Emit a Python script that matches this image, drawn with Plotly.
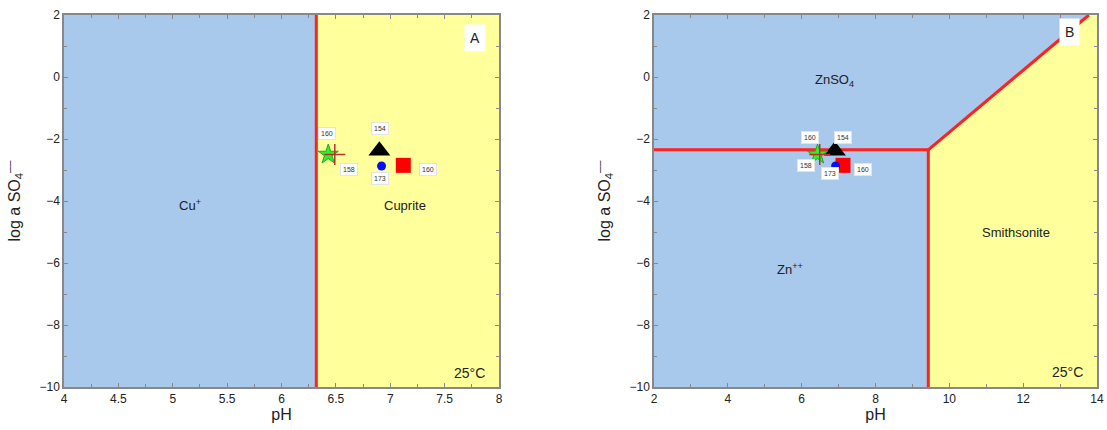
import plotly.graph_objects as go

# ---- data ----
# Panel A (Cu system)
a_boundary_ph = 6.32
a_xrange = [4, 8]
yrange = [-10, 2]
# Panel B (Zn system)
b_vert_ph = 9.43
b_horiz_logso4 = -2.35
b_diag_top_ph = 13.78
b_xrange = [2, 14]

# sample points (same samples shown in both panels)
star_ph, star_so4 = [6.43], [-2.5]
cross_ph, cross_so4 = [6.49], [-2.5]
tri_ph, tri_so4 = [6.9], [-2.38]
circ_ph, circ_so4 = [6.92], [-2.87]
sq_ph, sq_so4 = [7.12], [-2.85]

# sample labels: text, panel-A position, panel-B position
label_text = ["160", "154", "158", "173", "160"]
label_a_ph = [6.42, 6.91, 6.62, 6.91, 7.35]
label_a_so4 = [-1.81, -1.65, -2.97, -3.26, -2.97]
label_b_ph = [6.23, 7.12, 6.12, 6.77, 7.66]
label_b_so4 = [-1.94, -1.94, -2.84, -3.1, -2.97]

BLUE = "#a8c8ec"
YELLOW = "#ffff9c"
RED = "#ff2020"
FONT = "Liberation Sans, Arial, sans-serif"

fig = go.Figure()

def poly(xs, ys, color, xa, ya):
    fig.add_trace(go.Scatter(x=xs, y=ys, fill="toself", fillcolor=color, mode="none",
                             xaxis=xa, yaxis=ya, showlegend=False, hoverinfo="skip"))

def line(xs, ys, xa, ya):
    fig.add_trace(go.Scatter(x=xs, y=ys, mode="lines", line=dict(color=RED, width=3),
                             xaxis=xa, yaxis=ya, showlegend=False, hoverinfo="skip"))

def markers(xa, ya):
    fig.add_trace(go.Scatter(x=tri_ph, y=tri_so4, mode="markers", xaxis=xa, yaxis=ya,
                             marker=dict(symbol="triangle-up", size=19, color="black"), showlegend=False))
    fig.add_trace(go.Scatter(x=sq_ph, y=sq_so4, mode="markers", xaxis=xa, yaxis=ya,
                             marker=dict(symbol="square", size=15, color="red"), showlegend=False))
    fig.add_trace(go.Scatter(x=circ_ph, y=circ_so4, mode="markers", xaxis=xa, yaxis=ya,
                             marker=dict(symbol="circle", size=9, color="#0010ff"), showlegend=False))
    fig.add_trace(go.Scatter(x=star_ph, y=star_so4, mode="markers", xaxis=xa, yaxis=ya,
                             marker=dict(symbol="star", size=15, color="#33ee22",
                                         line=dict(color="#22aa22", width=1)), showlegend=False))
    fig.add_trace(go.Scatter(x=cross_ph, y=cross_so4, mode="markers", xaxis=xa, yaxis=ya,
                             marker=dict(symbol="cross-thin", size=15,
                                         line=dict(color="#b83030", width=1.5)), showlegend=False))

# Panel A regions
poly([a_xrange[0], a_boundary_ph, a_boundary_ph, a_xrange[0]],
     [yrange[0], yrange[0], yrange[1], yrange[1]], BLUE, "x", "y")
poly([a_boundary_ph, a_xrange[1], a_xrange[1], a_boundary_ph],
     [yrange[0], yrange[0], yrange[1], yrange[1]], YELLOW, "x", "y")
line([a_boundary_ph, a_boundary_ph], yrange, "x", "y")
markers("x", "y")

# Panel B regions
poly([b_xrange[0], b_vert_ph, b_vert_ph, b_diag_top_ph, b_xrange[0]],
     [yrange[0], yrange[0], b_horiz_logso4, yrange[1], yrange[1]], BLUE, "x2", "y2")
poly([b_vert_ph, b_xrange[1], b_xrange[1], b_diag_top_ph, b_vert_ph],
     [yrange[0], yrange[0], yrange[1], yrange[1], b_horiz_logso4], YELLOW, "x2", "y2")
line([b_xrange[0], b_vert_ph], [b_horiz_logso4, b_horiz_logso4], "x2", "y2")
line([b_vert_ph, b_vert_ph], [yrange[0], b_horiz_logso4], "x2", "y2")
line([b_vert_ph, b_diag_top_ph], [b_horiz_logso4, yrange[1]], "x2", "y2")
markers("x2", "y2")

ann = []
for xr, yr, xs, ys in [("x", "y", label_a_ph, label_a_so4), ("x2", "y2", label_b_ph, label_b_so4)]:
    for t, px, py in zip(label_text, xs, ys):
        ann.append(dict(x=px, y=py, xref=xr, yref=yr, text=t, showarrow=False,
                        font=dict(size=7, color="#333", family=FONT), bgcolor="white",
                        bordercolor="#e4e4e4", borderwidth=1, borderpad=2))

def txt(x, y, xr, yr, t, size=13):
    ann.append(dict(x=x, y=y, xref=xr, yref=yr, text=t, showarrow=False,
                    font=dict(size=size, color="#222", family=FONT)))

txt(5.16, -4.13, "x", "y", "Cu<sup>+</sup>")
txt(7.14, -4.16, "x", "y", "Cuprite")
txt(7.73, -9.55, "x", "y", "25°C", 14)
ann.append(dict(x=7.78, y=1.25, xref="x", yref="y", text="A", showarrow=False, bgcolor="white",
                font=dict(size=14, color="#222", family=FONT), borderpad=5))
txt(6.9, -0.1, "x2", "y2", "ZnSO<sub>4</sub>")
txt(5.69, -6.2, "x2", "y2", "Zn<sup>++</sup>")
txt(11.8, -5.03, "x2", "y2", "Smithsonite")
txt(13.2, -9.5, "x2", "y2", "25°C", 14)
ann.append(dict(x=13.25, y=1.45, xref="x2", yref="y2", text="B", showarrow=False, bgcolor="white",
                font=dict(size=14, color="#222", family=FONT), borderpad=5))

axcommon = dict(showline=True, mirror="ticks", linecolor="#888", linewidth=1.5, ticks="inside",
                ticklen=4, tickcolor="#888", showgrid=False, zeroline=False, automargin=False,
                tickfont=dict(size=12, color="#222", family=FONT))
ytitle = dict(text="log a SO<sub>4</sub><sup>\u2012\u2012</sup>", font=dict(size=16, color="#222", family=FONT))
xtitle = dict(text="pH", font=dict(size=16, color="#222", family=FONT), standoff=4)

fig.update_layout(
    width=1107, height=430, autosize=False,
    margin=dict(l=0, r=0, t=15, b=43, autoexpand=False),
    paper_bgcolor="white", plot_bgcolor="white",
    font=dict(family=FONT),
    xaxis=dict(domain=[64 / 1107, 499 / 1107], range=a_xrange, dtick=0.5, tick0=4,
               minor=dict(dtick=0.25, ticks="inside", ticklen=3, tickcolor="#888"),
               title=xtitle, anchor="y", **axcommon),
    yaxis=dict(range=yrange, dtick=2, tick0=-10, minor=dict(dtick=1, ticks="inside", ticklen=3, tickcolor="#888"),
               title=ytitle, anchor="x", **axcommon),
    xaxis2=dict(domain=[654 / 1107, 1097 / 1107], range=b_xrange, dtick=2, tick0=2,
                minor=dict(dtick=1, ticks="inside", ticklen=3, tickcolor="#888"),
                title=xtitle, anchor="y2", **axcommon),
    yaxis2=dict(range=yrange, dtick=2, tick0=-10, minor=dict(dtick=1, ticks="inside", ticklen=3, tickcolor="#888"),
                title=ytitle, anchor="x2", **axcommon),
    annotations=ann,
)
fig.write_html("out.html", config={"responsive": False})
